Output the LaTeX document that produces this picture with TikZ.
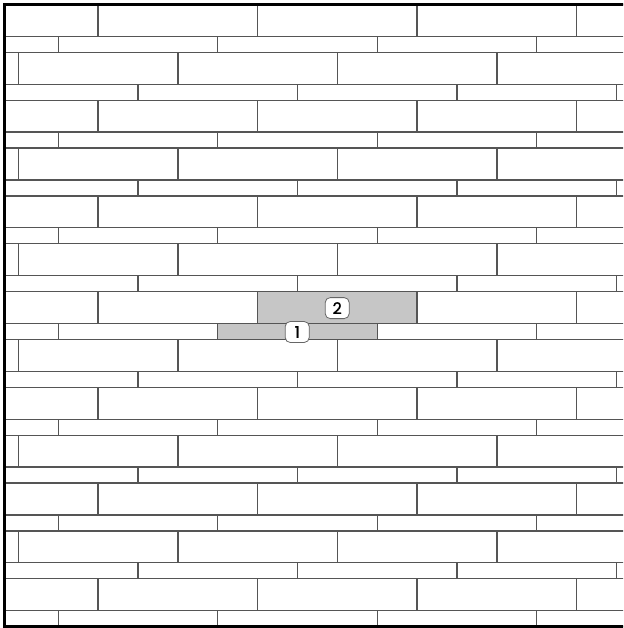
\documentclass[tikz,border=0pt]{standalone}
\usepackage{fontspec}
\newfontfamily\tagfont[FakeBold=1.3]{Poppins}
\definecolor{jointgray}{HTML}{555555}
\definecolor{hlgray}{HTML}{C6C6C6}

\begin{document}
\begin{tikzpicture}[x=1pt,y=-1pt,
 joint/.style={draw=jointgray,line width=1.3pt},
 hl/.style={fill=hlgray,inner sep=0pt,minimum width=159.5pt},
 tag/.style={draw=black!60,line width=0.8pt,fill=white,rounded corners=5pt,inner sep=0pt,
 minimum width=24pt,minimum height=21pt,font=\tagfont\fontsize{16}{16}\selectfont}]
\useasboundingbox (0,0) rectangle (623,628);
\clip (0,0) rectangle (623,628);
% highlighted bricks
\node[hl,minimum height=31.9pt] (brick2) at (337.2,308.1) {};
\node[hl,minimum height=15.95pt] (brick1) at (297.2,332) {};
% rows of bricks
\foreach \k in {0,...,6}{
 \foreach \r/\h/\x in {0/2/98.1,2/1/58.2,3/2/18.4,5/1/138}{
  \draw[joint] (4.5,{4.5+(6*\k+\r)*15.95}) -- (630,{4.5+(6*\k+\r)*15.95});
  \foreach \m in {0,...,3}
   \draw[joint] ({\x+159.5*\m},{4.5+(6*\k+\r)*15.95}) -- ++(0,{\h*15.95});
 }
}
% frame
\draw[line width=3pt] (630,4.5) -- (4.5,4.5) -- (4.5,626.5) -- (630,626.5);
\node[tag] (tag2) at (brick2) {2};
\node[tag] (tag1) at (brick1) {1};
\end{tikzpicture}
\end{document}
